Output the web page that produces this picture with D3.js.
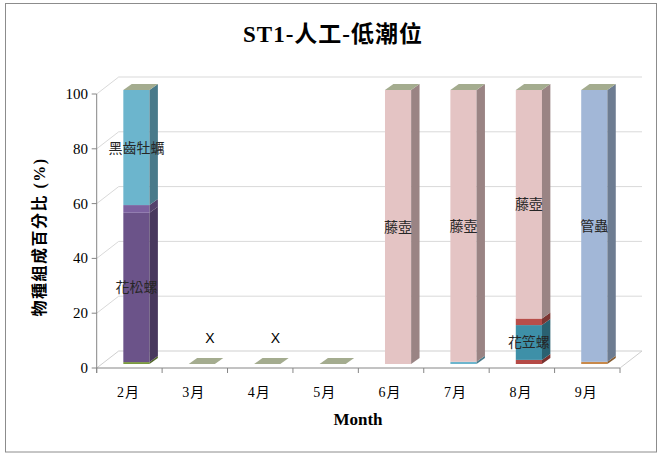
<!DOCTYPE html>
<html><head><meta charset="utf-8">
<script src="https://cdn.jsdelivr.net/npm/d3@7"></script>
<style>body{margin:0;background:#fff}svg{display:block}</style>
</head><body><svg id="c" width="662" height="457"></svg>
<script>
// ---- data ----
const months = ["2月","3月","4月","5月","6月","7月","8月","9月"];
const yTicks = [0,20,40,60,80,100];
const title = "ST1-人工-低潮位";
const yTitle = "物種組成百分比 (%)";
const xTitle = "Month";
const xMarks = ["","X","X","","","","",""];

const green   = [0.7, 0, 0, 0, 0,   0,    0,    0];
const redLow  = [0,   0, 0, 0, 0,   0,    1.5,  0];
const huaSong = [54.5,0, 0, 0, 0,   0,    0,    0];
const purple2 = [2.8, 0, 0, 0, 0,   0,    0,    0];
const heiChi  = [42,  0, 0, 0, 0,   0.8,  0,    0];
const orange  = [0,   0, 0, 0, 0,   0,    0,    0.8];
const huaLi   = [0,   0, 0, 0, 0,   0,    12.7, 0];
const redHigh = [0,   0, 0, 0, 0,   0,    2.4,  0];
const tengHu  = [0,   0, 0, 0, 100, 99.2, 83.4, 0];
const guanChong=[0,   0, 0, 0, 0,   0,    0,    99.2];
const topZero = [0,   0, 0, 0, 0,   0,    0,    0];

const seriesNames  = ["其他1","其他2","花松螺","其他3","黑齒牡蠣","其他4","花笠螺","其他5","藤壺","管蟲","其他6"];
const seriesValues = [green, redLow, huaSong, purple2, heiChi, orange, huaLi, redHigh, tengHu, guanChong, topZero];
const seriesColors = ["#7a9a3e","#b54a46","#6b5389","#7c61a0","#6cb5cd","#c8894a","#3e90a8","#b84e4a","#e4c4c4","#a2b7d7","#a4ac8f"];

// ---- layout ----
const svg = d3.select("#c");
const X0 = 96.7, X1 = 620, Y0 = 368, Y100 = 94;
const wallDx = 22, wallDy = -17;     // back wall offset
const barDx = 7, barDy = -4;         // bar front plane offset
const depDx = 8.4, depDy = -6;       // bar depth

const x = d3.scaleBand().domain(months).range([X0, X1]).paddingInner(0.6).paddingOuter(0.3);
const y = d3.scaleLinear().domain([0,100]).range([Y0, Y100]);

// outer border
svg.append("rect").attr("x",5.5).attr("y",3.5).attr("width",651).attr("height",448.5)
  .attr("fill","#fff").attr("stroke","#8c8c8c").attr("stroke-width",1);

// title
svg.append("text").attr("x",333).attr("y",42).attr("text-anchor","middle")
  .attr("font-family","'Liberation Serif','Noto Sans CJK TC',serif").attr("font-weight","bold")
  .attr("font-size",23).attr("letter-spacing",1).attr("fill","#000").text(title);

// wall gridlines
const grid = svg.append("g").attr("stroke","#d9d9d9").attr("stroke-width",1).attr("fill","none");
yTicks.forEach(t => {
  const yy = y(t);
  if (t === 0) return;
  grid.append("path").attr("d", `M${X0},${yy}L${X0+wallDx},${yy+wallDy}L${X1+wallDx},${yy+wallDy}`);
});
// floor
svg.append("path").attr("d", `M${X0},${Y0}L${X0+wallDx},${Y0+wallDy}L${X1+wallDx},${Y0+wallDy}L${X1},${Y0}`)
  .attr("fill","none").attr("stroke","#cfcfcf").attr("stroke-width",1);

// axes
const axG = svg.append("g").attr("stroke","#868686").attr("stroke-width",1).attr("fill","none");
axG.append("path").attr("d", `M${X0},${Y100}L${X0},${Y0+5}`);
axG.append("path").attr("d", `M${X0},${Y0}L${X1},${Y0}`);
yTicks.forEach(t => axG.append("path").attr("d", `M${X0-5},${y(t)}L${X0},${y(t)}`));
const step = x.step();
d3.range(months.length+1).forEach(i => {
  const xx = X0 + i*step;
  axG.append("path").attr("d", `M${xx},${Y0}L${xx},${Y0+5}`);
});

// y tick labels
svg.append("g").selectAll("text").data(yTicks).join("text")
  .attr("x",88).attr("y",d=>y(d)+5).attr("text-anchor","end")
  .attr("font-family","'Liberation Serif',serif").attr("font-size",15).attr("fill","#000")
  .text(d=>d);

// x tick labels
svg.append("g").selectAll("text").data(months).join("text")
  .attr("x",d=>x(d)+x.bandwidth()/2-1).attr("y",397).attr("text-anchor","middle")
  .attr("font-family","'Liberation Serif','Noto Sans CJK TC',serif").attr("font-size",14).attr("letter-spacing",1).attr("fill","#000")
  .text(d=>d);

// axis titles
svg.append("text").attr("x",358).attr("y",425).attr("text-anchor","middle")
  .attr("font-family","'Liberation Serif',serif").attr("font-weight","bold").attr("font-size",17)
  .attr("fill","#000").text(xTitle);
svg.append("text").attr("transform","translate(45,237) rotate(-90)").attr("text-anchor","middle")
  .attr("font-family","'Liberation Serif','Noto Sans CJK TC',serif").attr("font-weight","bold").attr("font-size",16)
  .attr("letter-spacing",1.5).attr("fill","#000").text(yTitle);

// stacked 3D bars
const table = months.map((m,i) => { const o = {month:m}; seriesNames.forEach((s,k)=> o[s] = seriesValues[k][i]); return o; });
const stack = d3.stack().keys(seriesNames)(table);
const bars = svg.append("g");
const lab = [];
months.forEach((m,i) => {
  const bx0 = x(m) + barDx, bx1 = bx0 + x.bandwidth();
  stack.forEach((layer,k) => {
    const [v0,v1] = layer[i];
    const c = d3.color(seriesColors[k]);
    const yb = y(v0) + barDy, yt = y(v1) + barDy;
    if (v1 - v0 > 0) {
      bars.append("rect").attr("x",bx0).attr("y",yt).attr("width",bx1-bx0).attr("height",yb-yt).attr("fill",c);
      bars.append("path").attr("d", `M${bx1},${yt}L${bx1+depDx},${yt+depDy}L${bx1+depDx},${yb+depDy}L${bx1},${yb}Z`)
        .attr("fill", c.darker(1.1));
      if (v1 - v0 >= 10) lab.push({x:(bx0+bx1)/2, y:(yt+yb)/2, t:seriesNames[k]});
    }
    if (k === stack.length-1) {
      bars.append("path").attr("d", `M${bx0},${yt}L${bx1},${yt}L${bx1+depDx},${yt+depDy}L${bx0+depDx},${yt+depDy}Z`)
        .attr("fill", c);
    }
  });
});

// data labels
svg.append("g").selectAll("text").data(lab).join("text")
  .attr("x",d=>d.x).attr("y",d=>d.y+5).attr("text-anchor","middle")
  .attr("font-family","'Noto Sans CJK TC',sans-serif").attr("font-size",14).attr("fill","#262626")
  .text(d=>d.t);

// X marks
svg.append("g").selectAll("text").data(months.filter((m,i)=>xMarks[i])).join("text")
  .attr("x",d=>x(d)+barDx+x.bandwidth()-5).attr("y",343).attr("text-anchor","middle")
  .attr("font-family","'Liberation Sans',sans-serif").attr("font-size",14).attr("fill","#000")
  .text(d=>xMarks[months.indexOf(d)]);
</script></body></html>
